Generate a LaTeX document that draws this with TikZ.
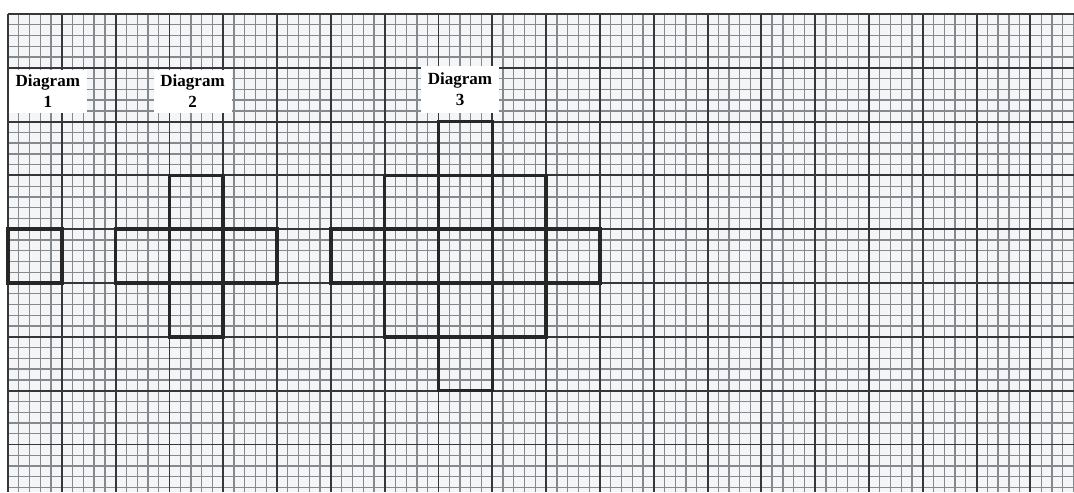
\documentclass[tikz,border=0pt]{standalone}
\usepackage{fontspec}
\setmainfont{Liberation Serif}
\usetikzlibrary{positioning}
\definecolor{GridMinor}{HTML}{85888C}
\definecolor{GridMajor}{HTML}{35373B}
\definecolor{PaperTone}{HTML}{F3F5F7}

\begin{document}
\begin{tikzpicture}[
  minorgrid/.style={draw=GridMinor,line width=0.7pt},
  majorgrid/.style={draw=GridMajor,line width=1pt},
  cell/.style={draw=black!85,line width=1.9pt},
  tag/.style={rectangle,fill=white,minimum width=1.45cm,minimum height=0.8cm,align=center,inner sep=1pt,font=\fontsize{9}{11}\selectfont\bfseries}
]
\useasboundingbox (-0.149,-3.885) rectangle (19.81,5.26);
\fill[white] (-0.149,-3.885) rectangle (19.81,5.26);
\fill[PaperTone] (0,-3.885) rectangle (19.81,5);
\draw[minorgrid] (0,-3.885) grid[step=0.2] (19.81,5);
\draw[majorgrid] (0,-3.885) grid[step=1] (19.81,5);
% diagram labels
\node[tag] (tagone) at (0.74,3.56) {Diagram\\1};
\node[tag] (tagtwo) at (3.43,3.56) {Diagram\\2};
\node[tag,minimum height=0.87cm] (tagthree) at (8.4,3.6) {Diagram\\3};
% diagram 1
\draw[cell] (0,0) rectangle ++(1,1);
% diagram 2
\foreach \x/\y in {2/0,3/0,4/0,3/1,3/-1}
  \draw[cell] (\x,\y) rectangle ++(1,1);
% diagram 3
\foreach \x/\y in {8/2,7/1,8/1,9/1,6/0,7/0,8/0,9/0,10/0,7/-1,8/-1,9/-1,8/-2}
  \draw[cell] (\x,\y) rectangle ++(1,1);
\end{tikzpicture}
\end{document}
